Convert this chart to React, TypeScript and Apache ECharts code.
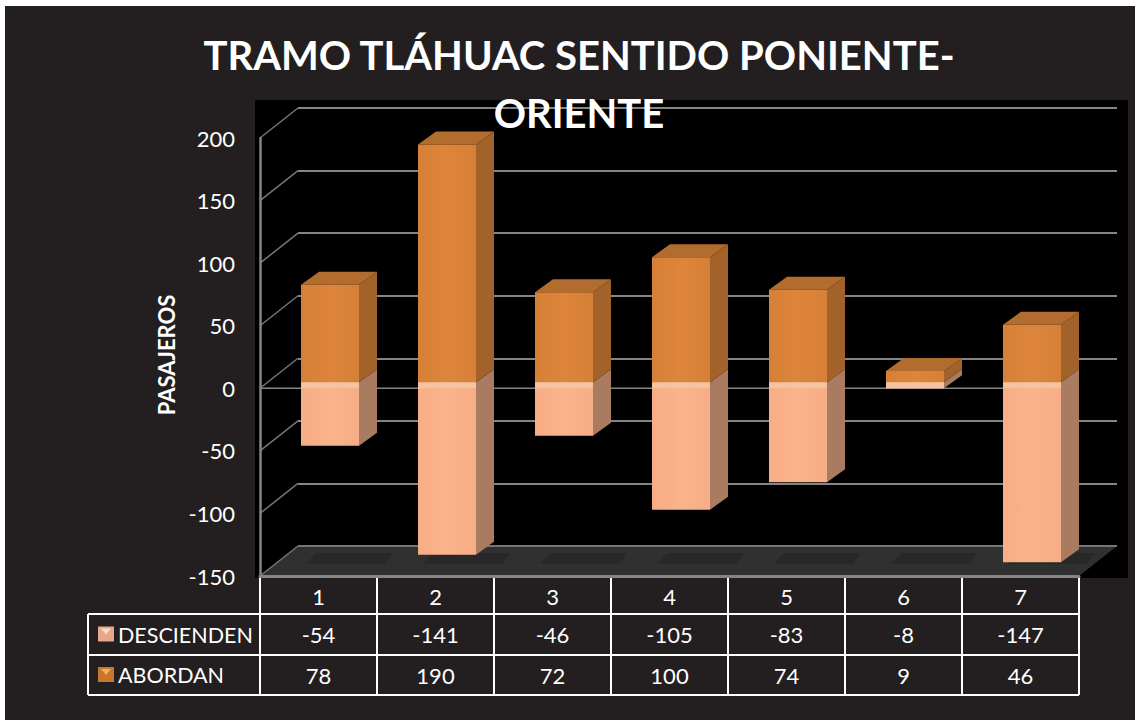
import React, { useEffect, useRef } from "react";
import * as echarts from "echarts";

const categories = ["1", "2", "3", "4", "5", "6", "7"];
const desciendenValues = [-54, -141, -46, -105, -83, -8, -147];
const abordanValues = [78, 190, 72, 100, 74, 9, 46];
const yTicks = [-150, -100, -50, 0, 50, 100, 150, 200];
const seriesNames = ["DESCIENDEN", "ABORDAN"];
const titleLines = ["TRAMO TLÁHUAC SENTIDO PONIENTE-", "ORIENTE"];
const yAxisTitle = "PASAJEROS";

const FONT = "Lato, 'Open Sans', sans-serif";
const GRID = { left: 260, top: 138, width: 819, height: 438 };
const WALL_DX = 38;
const WALL_DY = 30;
const BAR_SHIFT_X = 11.5;
const BAR_SHIFT_Y = 6;
const BAR_W = 58;
const BAR_DX = 18;
const BAR_DY = 13;
const NEG_SHIFT = 4;
const GRAY = "#858585";
const WALL_GRAY = "#767676";

function poly(points: number[][], fill: any) {
  return { type: "polygon", shape: { points }, style: { fill, stroke: null } };
}

function hGrad(a: string, b: string) {
  return new echarts.graphic.LinearGradient(0, 0, 1, 0, [
    { offset: 0, color: a },
    { offset: 0.5, color: b },
    { offset: 1, color: a },
  ]);
}

function wallItem(_: any, api: any) {
  const v = api.value(1);
  const [x, y] = api.coord([0, v]);
  const half = api.size([1, 0])[0] / 2;
  const children: any[] = [
    {
      type: "line",
      shape: { x1: x - half, y1: y, x2: x - half + WALL_DX, y2: y - WALL_DY },
      style: { stroke: WALL_GRAY, lineWidth: 1.5 },
    },
  ];
  if (v === 0) {
    children.push({
      type: "line",
      shape: { x1: x - half, y1: y, x2: x - half + api.size([1, 0])[0] * categories.length, y2: y },
      style: { stroke: GRAY, lineWidth: 1.5 },
    });
  }
  return { type: "group", children };
}

function floorItem(_: any, api: any) {
  const i = api.value(0);
  const band = api.size([1, 0])[0];
  const [cx, y] = api.coord([i, api.value(1)]);
  const children: any[] = [];
  if (i === 0) {
    const l = cx - band / 2;
    const r = l + band * categories.length;
    children.push(poly([[l, y], [l + WALL_DX, y - WALL_DY], [r + WALL_DX, y - WALL_DY], [r, y]], "#303030"));
    children.push({
      type: "line",
      shape: { x1: l + WALL_DX, y1: y - WALL_DY, x2: r + WALL_DX, y2: y - WALL_DY },
      style: { stroke: WALL_GRAY, lineWidth: 2 },
    });
  }
  const sl = cx - band / 2 + 50;
  const sw = 75;
  children.push(
    poly([[sl + 6, y - 23], [sl + sw + 8, y - 23], [sl + sw, y - 12], [sl - 4, y - 12]], "#282828"),
  );
  return { type: "group", children };
}

function barItem(kind: "neg" | "pos") {
  return (_: any, api: any) => {
    const i = api.value(0);
    const v = api.value(1);
    const [cx, zero] = api.coord([i, 0]);
    const y0 = zero - BAR_SHIFT_Y;
    const xl = cx + BAR_SHIFT_X - BAR_W / 2;
    const xr = xl + BAR_W;
    const yv = api.coord([i, v])[1] - BAR_SHIFT_Y;
    if (kind === "neg") {
      const yb = yv - NEG_SHIFT;
      return {
        type: "group",
        children: [
          poly([[xr, y0], [xr + BAR_DX, y0 - BAR_DY], [xr + BAR_DX, yb - BAR_DY], [xr, yb]], "#a97b60"),
          poly([[xl, y0], [xr, y0], [xr, yb], [xl, yb]], hGrad("#f7ad85", "#fab38b")),
          poly([[xl, y0 - 1], [xr, y0 - 1], [xr, y0 + 6], [xl, y0 + 6]], "#f5c3a2"),
        ],
      };
    }
    return {
      type: "group",
      children: [
        poly([[xr, y0], [xr + BAR_DX, y0 - BAR_DY], [xr + BAR_DX, yv - BAR_DY], [xr, yv]], "#a3622a"),
        poly([[xl, yv], [xl + BAR_DX, yv - BAR_DY], [xr + BAR_DX, yv - BAR_DY], [xr, yv]], "#b26c2e"),
        poly([[xl, y0], [xr, y0], [xr, yv], [xl, yv]], hGrad("#d67f36", "#dc853b")),
      ],
    };
  };
}

function tableGraphics() {
  const left = GRID.left;
  const band = GRID.width / categories.length;
  const right = left + GRID.width;
  const xs = [88, 260, 377, 494, 611, 728, 845, 962, 1079];
  const rows = [614, 655, 695];
  const els: any[] = [];
  const line = (x1: number, y1: number, x2: number, y2: number) =>
    els.push({ type: "line", shape: { x1, y1, x2, y2 }, style: { stroke: "#ffffff", lineWidth: 2 } });
  rows.forEach((y) => line(xs[0], y, right, y));
  xs.forEach((x, k) => line(x, k === 0 ? rows[0] : GRID.top + GRID.height, x, rows[2]));
  const rowValues = [desciendenValues, abordanValues];
  const swatch = [
    ["#e8a888", "#f6dcc8"],
    ["#c9762e", "#f0b060"],
  ];
  rowValues.forEach((vals, r) => {
    const cy = (rows[r] + rows[r + 1]) / 2;
    els.push({ type: "rect", shape: { x: 98, y: cy - 8, width: 16, height: 15 }, style: { fill: swatch[r][0] } });
    els.push({
      type: "polygon",
      shape: { points: [[101, cy - 6], [111, cy - 6], [106, cy]] },
      style: { fill: swatch[r][1] },
    });
    els.push({
      type: "text",
      x: 118,
      y: cy,
      style: { text: seriesNames[r], fill: "#ffffff", font: `21.5px ${FONT}`, textVerticalAlign: "middle", textAlign: "left" },
    });
    vals.forEach((v, i) => {
      els.push({
        type: "text",
        x: left + band * (i + 0.5),
        y: cy,
        style: { text: String(v), fill: "#ffffff", font: `22px ${FONT}`, textVerticalAlign: "middle", textAlign: "center" },
      });
    });
  });
  return els;
}

export default function App() {
  const ref = useRef<HTMLDivElement>(null);
  useEffect(() => {
    const chart = echarts.init(ref.current!, undefined, { renderer: "svg" });
    chart.setOption({
      animation: false,
      backgroundColor: "transparent",
      title: {
        text: titleLines.join("\n"),
        left: 574,
        top: 21,
        textAlign: "center",
        textStyle: { color: "#ffffff", fontFamily: FONT, fontWeight: 700, fontSize: 40, lineHeight: 58 },
      },
      grid: [
        { ...GRID },
        { left: GRID.left + WALL_DX, top: GRID.top - WALL_DY, width: GRID.width, height: GRID.height },
      ],
      xAxis: [
        {
          type: "category",
          data: categories,
          gridIndex: 0,
          z: 5,
          axisLine: { onZero: false, lineStyle: { color: GRAY, width: 3 } },
          axisTick: { show: false },
          axisLabel: { color: "#ffffff", fontFamily: FONT, fontSize: 22, margin: 9 },
        },
        {
          type: "category",
          data: categories,
          gridIndex: 1,
          axisLine: { show: false },
          axisTick: { show: false },
          axisLabel: { show: false },
        },
      ],
      yAxis: [
        {
          type: "value",
          gridIndex: 0,
          min: yTicks[0],
          max: yTicks[yTicks.length - 1],
          interval: 50,
          z: 5,
          name: yAxisTitle,
          nameLocation: "middle",
          nameRotate: 90,
          nameGap: 81,
          nameTextStyle: { color: "#ffffff", fontFamily: FONT, fontWeight: 700, fontSize: 22, padding: [0, 0, 0, 4] },
          axisLine: { show: true, lineStyle: { color: GRAY, width: 2.5 } },
          axisTick: { show: false },
          axisLabel: { color: "#ffffff", fontFamily: FONT, fontSize: 22, margin: 25 },
          splitLine: { show: false },
        },
        {
          type: "value",
          gridIndex: 1,
          min: yTicks[0],
          max: yTicks[yTicks.length - 1],
          interval: 50,
          axisLine: { show: false },
          axisTick: { show: false },
          axisLabel: { show: false },
          splitLine: { show: true, lineStyle: { color: GRAY, width: 2 } },
        },
      ],
      series: [
        {
          type: "custom",
          name: "floor",
          silent: true,
          renderItem: floorItem,
          data: categories.map((_, i) => [i, yTicks[0]]),
          z: 1,
        },
        {
          type: "custom",
          name: "walls",
          silent: true,
          renderItem: wallItem,
          data: yTicks.map((t) => [0, t]),
          z: 1,
        },
        {
          type: "custom",
          name: seriesNames[0],
          renderItem: barItem("neg"),
          data: desciendenValues.map((v, i) => [i, v]),
          z: 2,
        },
        {
          type: "custom",
          name: seriesNames[1],
          renderItem: barItem("pos"),
          data: abordanValues.map((v, i) => [i, v]),
          z: 3,
        },
      ],
      graphic: { elements: tableGraphics() },
    });
    return () => chart.dispose();
  }, []);

  const abs = (l: number, t: number, w: number, h: number, bg: string): React.CSSProperties => ({
    position: "absolute",
    left: l,
    top: t,
    width: w,
    height: h,
    background: bg,
  });

  return (
    <div style={abs(0, 0, 1135, 720, "#ffffff")}>
      <div style={abs(5, 6, 1130, 714, "#231f20")} />
      <div style={abs(255, 100, 873, 478, "#000000")} />
      <div ref={ref} style={abs(0, 0, 1135, 720, "transparent")} />
    </div>
  );
}
